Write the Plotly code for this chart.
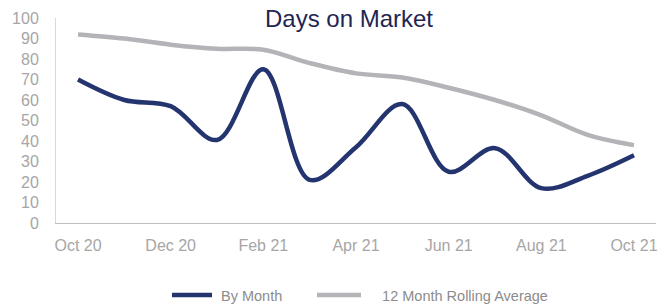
import plotly.graph_objects as go

months = ["Oct 20", "Nov 20", "Dec 20", "Jan 21", "Feb 21", "Mar 21", "Apr 21",
          "May 21", "Jun 21", "Jul 21", "Aug 21", "Sep 21", "Oct 21"]
by_month = [70, 60, 57, 40.5, 75, 21, 37, 58, 25, 36.5, 17, 23, 33]
rolling_avg = [92, 90, 87, 85, 84.5, 78, 73, 71, 66, 60, 52.5, 43, 38]
tick_labels = ["Oct 20", "Dec 20", "Feb 21", "Apr 21", "Jun 21", "Aug 21", "Oct 21"]
series_names = ["By Month", "12 Month Rolling Average"]

FONT = "Liberation Sans, Arial, sans-serif"
NB = "\u00a0"

# page body has an 8px default margin; the figure is sized to fit the window
W, H = 660, 297

fig = go.Figure()
fig.add_trace(go.Scatter(
    x=months, y=by_month, name=NB + series_names[0], mode="lines",
    line=dict(color="#23346f", width=4.5, shape="spline", smoothing=1.0),
    legend="legend",
))
fig.add_trace(go.Scatter(
    x=months, y=rolling_avg, name=NB * 4 + series_names[1], mode="lines",
    line=dict(color="#b4b4b8", width=4.5, shape="spline", smoothing=1.0),
    legend="legend2",
))

legend_common = dict(orientation="h", xanchor="left", xref="container",
                     y=10 / H, yanchor="middle", yref="container",
                     font=dict(family=FONT, size=14.5, color="#8c8c8c"),
                     bgcolor="rgba(0,0,0,0)")

fig.update_layout(
    width=W, height=H,
    margin=dict(l=48, r=12, t=10, b=82, autoexpand=False),
    paper_bgcolor="white", plot_bgcolor="white",
    font=dict(family=FONT, color="#a6a6a6"),
    title=dict(text="Days on Market", x=341 / W, xanchor="center",
               xref="container", y=1 - 11 / H, yanchor="middle",
               yref="container",
               font=dict(family=FONT, size=24, color="#1f2652")),
    showlegend=True,
    legend=dict(x=(173 - 8 - 6) / W, itemwidth=40, **legend_common),
    legend2=dict(x=(318 - 8 - 6) / W, itemwidth=44, **legend_common),
    xaxis=dict(type="category", categoryorder="array", categoryarray=months,
               range=[-0.475, 12.475], automargin=False,
               tickmode="array", tickvals=tick_labels, ticktext=tick_labels,
               showgrid=False, zeroline=False,
               showline=True, linecolor="#bfbfbf", linewidth=1,
               ticks="", ticklabelstandoff=8,
               tickfont=dict(family=FONT, size=16, color="#a6a6a6")),
    yaxis=dict(range=[0, 100], dtick=10, tick0=0, automargin=False,
               showgrid=False, zeroline=False,
               showline=True, linecolor="#d9d9d9", linewidth=1,
               ticks="", ticklabelstandoff=13,
               tickfont=dict(family=FONT, size=16, color="#a6a6a6")),
)

fig.write_html("out.html")
